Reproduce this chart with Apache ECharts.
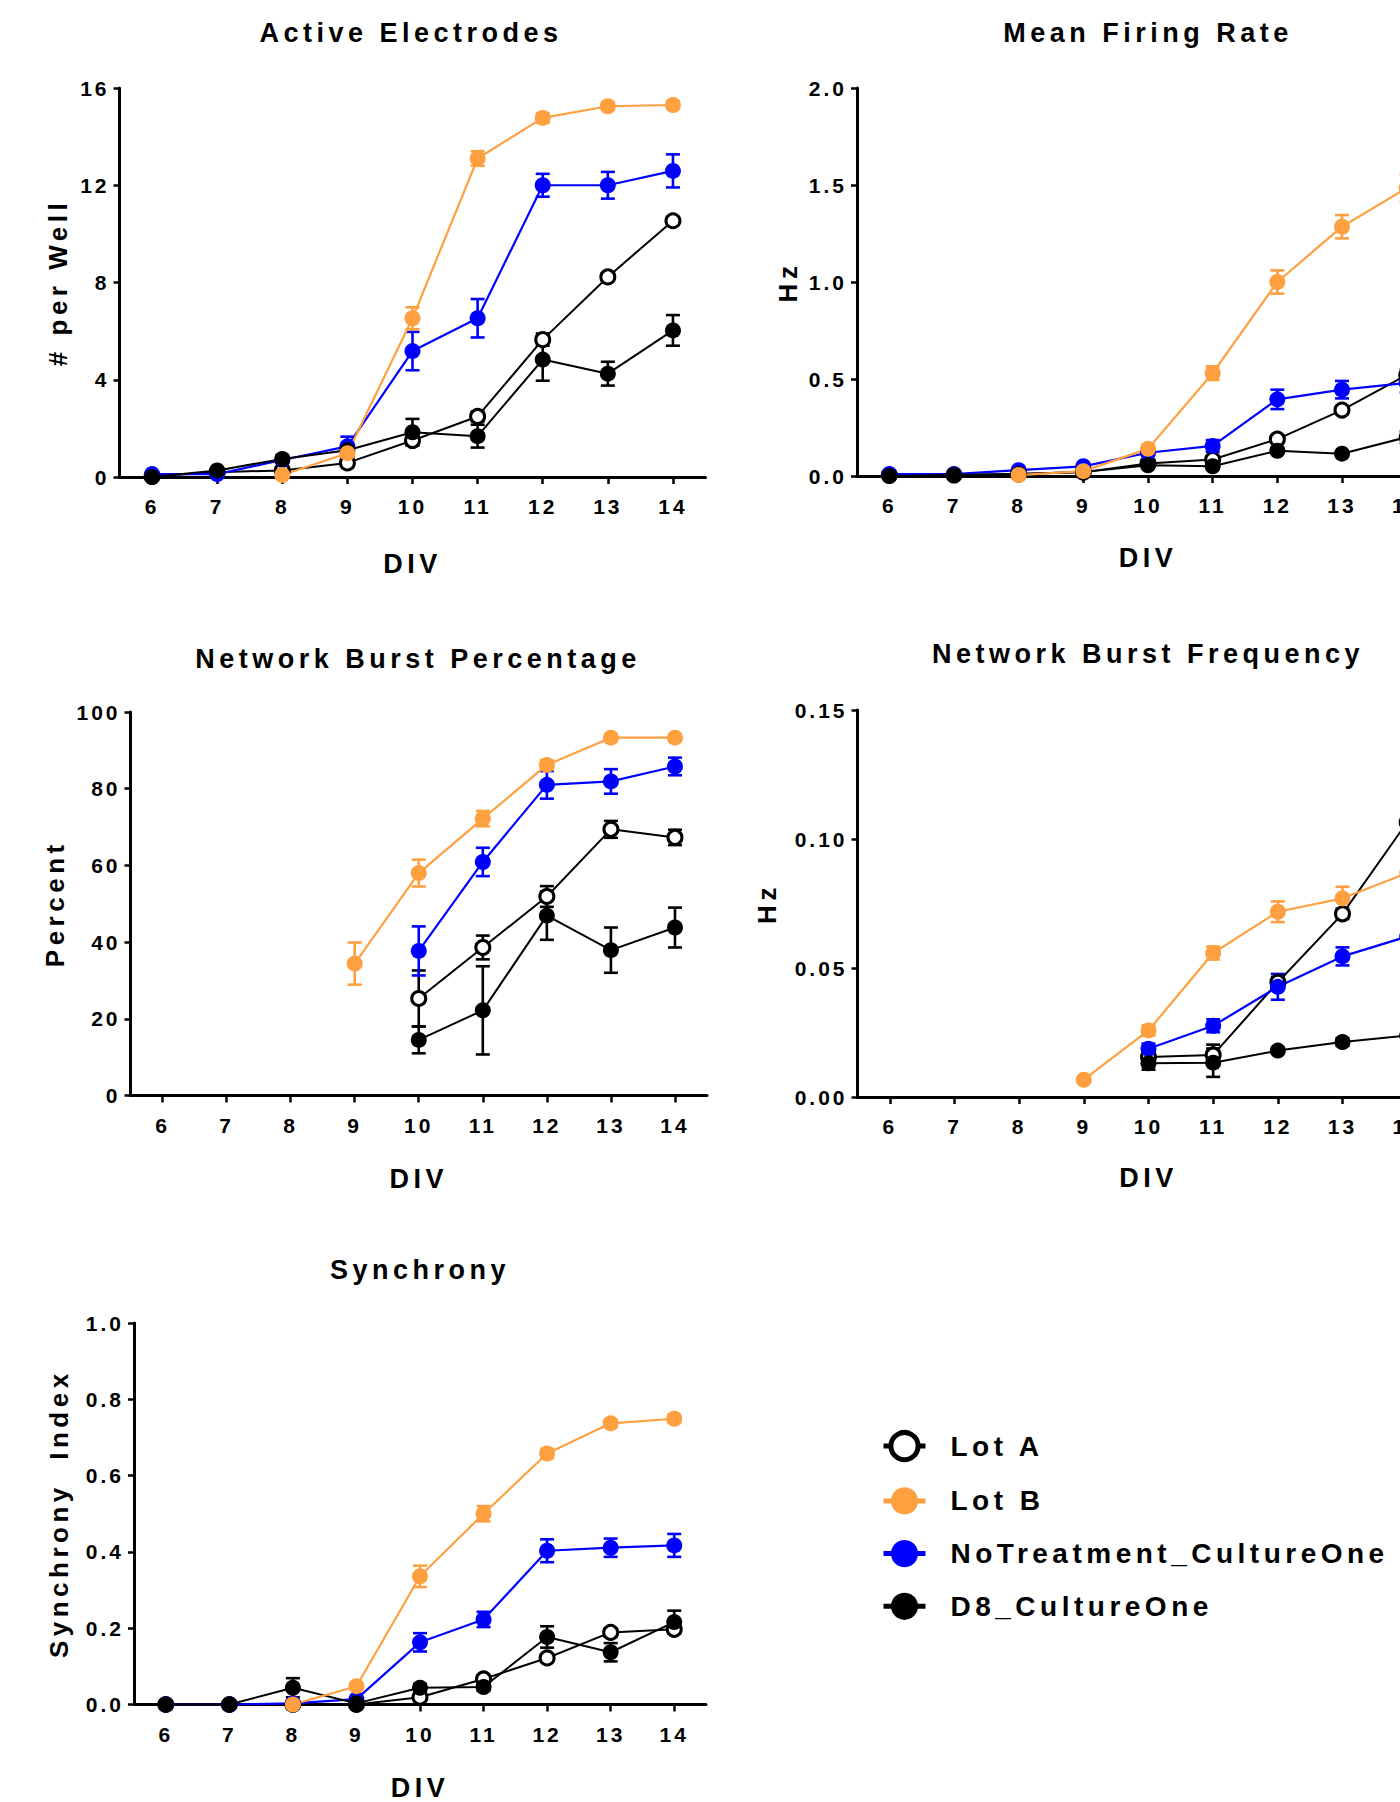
<!DOCTYPE html>
<html>
<head>
<meta charset="utf-8">
<script src="https://cdn.jsdelivr.net/npm/echarts@6/dist/echarts.min.js"></script>
<style>
html, body { margin: 0; padding: 0; background: #fff; }
#main { width: 1400px; height: 1802px; letter-spacing: 4.5px; }
</style>
</head>
<body>
<div id="main"></div>
<script>
var FONT = '"Liberation Sans", Arial, sans-serif';

// days in vitro
var divs = ['6', '7', '8', '9', '10', '11', '12', '13', '14'];

// y tick labels of each panel
var aeTicks = [0, 4, 8, 12, 16];
var mfrTicks = [0, 0.5, 1.0, 1.5, 2.0];
var nbpTicks = [0, 20, 40, 60, 80, 100];
var nbfTicks = [0, 0.05, 0.10, 0.15];
var synTicks = [0, 0.2, 0.4, 0.6, 0.8, 1.0];

// Active Electrodes (# per well), mean and error
var aeLotA = [0.03, 0.2, 0.27, 0.58, 1.5, 2.49, 5.65, 8.23, 10.54];
var aeLotAErr = [0, 0, 0.05, 0.1, 0.15, 0.2, 0.25, 0.15, 0.15];
var aeLotB = [null, null, 0.08, 0.98, 6.53, 13.1, 14.77, 15.25, 15.3];
var aeLotBErr = [null, null, 0.05, 0.15, 0.45, 0.3, 0.2, 0.15, 0.15];
var aeNoT = [0.12, 0.12, 0.7, 1.26, 5.18, 6.53, 12.0, 12.0, 12.59];
var aeNoTErr = [0.05, 0.05, 0.1, 0.4, 0.79, 0.79, 0.47, 0.55, 0.68];
var aeD8 = [0, 0.27, 0.74, 1.1, 1.84, 1.68, 4.83, 4.25, 6.03];
var aeD8Err = [0, 0.05, 0.15, 0.25, 0.55, 0.47, 0.87, 0.49, 0.63];

// Mean Firing Rate (Hz)
var mfrLotA = [0.005, 0.005, 0.01, 0.02, 0.065, 0.085, 0.19, 0.34, 0.52];
var mfrLotAErr = [0, 0, 0, 0.005, 0.01, 0.01, 0.015, 0.02, 0.03];
var mfrLotB = [null, null, 0.005, 0.025, 0.14, 0.53, 1.0, 1.285, 1.485];
var mfrLotBErr = [null, null, 0.005, 0.01, 0.02, 0.035, 0.06, 0.06, 0.07];
var mfrNoT = [0.01, 0.01, 0.03, 0.05, 0.12, 0.155, 0.395, 0.445, 0.48];
var mfrNoTErr = [0, 0, 0.005, 0.01, 0.015, 0.03, 0.05, 0.045, 0.05];
var mfrD8 = [0, 0.005, 0.01, 0.02, 0.055, 0.05, 0.13, 0.115, 0.2];
var mfrD8Err = [0, 0, 0.005, 0.005, 0.01, 0.01, 0.015, 0.01, 0.03];

// Network Burst Percentage
var nbpLotA = [null, null, null, null, 25.3, 38.6, 51.9, 69.4, 67.3];
var nbpLotAErr = [null, null, null, null, 7.3, 3.1, 2.7, 2.2, 2.0];
var nbpLotB = [null, null, null, 34.4, 58.0, 72.2, 86.2, 93.3, 93.3];
var nbpLotBErr = [null, null, null, 5.5, 3.5, 2.0, 1.2, 0.8, 0.8];
var nbpNoT = [null, null, null, null, 37.7, 60.9, 81.0, 81.9, 85.8];
var nbpNoTErr = [null, null, null, null, 6.4, 3.7, 3.6, 3.2, 2.3];
var nbpD8 = [null, null, null, null, 14.5, 22.2, 46.9, 37.9, 43.8];
var nbpD8Err = [null, null, null, null, 3.5, 11.5, 6.3, 5.9, 5.2];

// Network Burst Frequency (Hz)
var nbfLotA = [null, null, null, null, 0.0155, 0.0163, 0.0445, 0.071, 0.1065];
var nbfLotAErr = [null, null, null, null, 0.002, 0.004, 0.002, 0.002, 0.003];
var nbfLotB = [null, null, null, 0.0067, 0.0258, 0.0558, 0.0718, 0.077, 0.0868];
var nbfLotBErr = [null, null, null, 0.001, 0.002, 0.0025, 0.004, 0.0045, 0.004];
var nbfNoT = [null, null, null, null, 0.0187, 0.0276, 0.0427, 0.0545, 0.0622];
var nbfNoTErr = [null, null, null, null, 0.002, 0.0025, 0.005, 0.0035, 0.004];
var nbfD8 = [null, null, null, null, 0.0131, 0.0133, 0.018, 0.0213, 0.0238];
var nbfD8Err = [null, null, null, null, 0.0025, 0.0055, 0.001, 0.0015, 0.003];

// Synchrony Index
var synLotA = [0, 0, 0, 0, 0.019, 0.067, 0.122, 0.189, 0.197];
var synLotAErr = [0, 0, 0, 0, 0.005, 0.008, 0.01, 0.01, 0.01];
var synLotB = [null, null, 0, 0.048, 0.336, 0.5, 0.658, 0.737, 0.749];
var synLotBErr = [null, null, 0, 0.006, 0.028, 0.02, 0.012, 0.01, 0.01];
var synNoT = [0, 0, 0.003, 0.014, 0.163, 0.223, 0.403, 0.411, 0.417];
var synNoTErr = [0, 0, 0.002, 0.005, 0.024, 0.02, 0.03, 0.024, 0.03];
var synD8 = [0, 0, 0.044, 0.003, 0.044, 0.046, 0.177, 0.137, 0.216];
var synD8Err = [0, 0, 0.025, 0.002, 0.01, 0.01, 0.028, 0.024, 0.03];

var panels = [
    { title: 'Active Electrodes', yName: '# per Well', ticks: aeTicks, digits: 0,
      vals: { lotA: aeLotA, noT: aeNoT, d8: aeD8, lotB: aeLotB },
      errs: { lotA: aeLotAErr, noT: aeNoTErr, d8: aeD8Err, lotB: aeLotBErr } },
    { title: 'Mean Firing Rate', yName: 'Hz', ticks: mfrTicks, digits: 1,
      vals: { lotA: mfrLotA, noT: mfrNoT, d8: mfrD8, lotB: mfrLotB },
      errs: { lotA: mfrLotAErr, noT: mfrNoTErr, d8: mfrD8Err, lotB: mfrLotBErr } },
    { title: 'Network Burst Percentage', yName: 'Percent', ticks: nbpTicks, digits: 0,
      vals: { lotA: nbpLotA, noT: nbpNoT, d8: nbpD8, lotB: nbpLotB },
      errs: { lotA: nbpLotAErr, noT: nbpNoTErr, d8: nbpD8Err, lotB: nbpLotBErr } },
    { title: 'Network Burst Frequency', yName: 'Hz', ticks: nbfTicks, digits: 2,
      vals: { lotA: nbfLotA, noT: nbfNoT, d8: nbfD8, lotB: nbfLotB },
      errs: { lotA: nbfLotAErr, noT: nbfNoTErr, d8: nbfD8Err, lotB: nbfLotBErr } },
    { title: 'Synchrony', yName: 'Synchrony  Index', ticks: synTicks, digits: 1,
      vals: { lotA: synLotA, noT: synNoT, d8: synD8, lotB: synLotB },
      errs: { lotA: synLotAErr, noT: synNoTErr, d8: synD8Err, lotB: synLotBErr } }
];

// drawing order: bottom to top
var groups = [
    { name: 'Lot A', key: 'lotA', color: '#000000', fill: '#ffffff', size: 14, border: 3, width: 2 },
    { name: 'NoTreatment_CultureOne', key: 'noT', color: '#0000ff', fill: '#0000ff', size: 16, border: 0, width: 2.2 },
    { name: 'D8_CultureOne', key: 'd8', color: '#000000', fill: '#000000', size: 16, border: 0, width: 2 },
    { name: 'Lot B', key: 'lotB', color: '#ffa040', fill: '#ffa040', size: 16, border: 0, width: 2.2 }
];

// grid placement of each panel
var layout = [
    { left: 119.5, top: 88, width: 586, height: 389, titleX: 411, titleY: 19, yGap: 49, xGap: 73 },
    { left: 857, top: 88, width: 582, height: 388, titleX: 1148, titleY: 19, yGap: 56, xGap: 68.5 },
    { left: 130.5, top: 712, width: 576.5, height: 383.5, titleX: 418, titleY: 645, yGap: 62.6, xGap: 70 },
    { left: 857.5, top: 710, width: 582, height: 387, titleX: 1148, titleY: 640, yGap: 78, xGap: 67 },
    { left: 134, top: 1323, width: 572, height: 381.5, titleX: 420, titleY: 1256, yGap: 62, xGap: 69.5 }
];

function errorBars(i, vals, errs, color) {
    var pts = [];
    vals.forEach(function (v, k) {
        if (v != null && errs[k]) pts.push([k, v - errs[k], v + errs[k]]);
    });
    return {
        type: 'custom', xAxisIndex: i, yAxisIndex: i, silent: true,
        data: pts, encode: { x: 0, y: [1, 2] },
        renderItem: function (params, api) {
            var lo = api.coord([api.value(0), api.value(1)]);
            var hi = api.coord([api.value(0), api.value(2)]);
            var h = 7;
            var st = { stroke: color, lineWidth: 2.6 };
            return {
                type: 'group',
                children: [
                    { type: 'line', shape: { x1: lo[0], y1: lo[1], x2: hi[0], y2: hi[1] }, style: st },
                    { type: 'line', shape: { x1: lo[0] - h, y1: lo[1], x2: lo[0] + h, y2: lo[1] }, style: st },
                    { type: 'line', shape: { x1: hi[0] - h, y1: hi[1], x2: hi[0] + h, y2: hi[1] }, style: st }
                ]
            };
        }
    };
}

var bold = function (size) {
    return { color: '#000', fontFamily: FONT, fontWeight: 'bold', fontSize: size };
};

var grids = [], xAxes = [], yAxes = [], titles = [], series = [];

panels.forEach(function (p, i) {
    var L = layout[i];
    grids.push({
        left: L.left, top: L.top, width: L.width, height: L.height,
        containLabel: false, outerBoundsMode: 'none'
    });
    titles.push({
        text: p.title, left: L.titleX, top: L.titleY, textAlign: 'center', padding: 0,
        textStyle: bold(27)
    });
    xAxes.push({
        type: 'category', gridIndex: i, data: divs, boundaryGap: true,
        name: 'DIV', nameLocation: 'middle', nameGap: L.xGap, nameTextStyle: bold(27),
        axisLine: { show: true, onZero: false, lineStyle: { color: '#000', width: 3 } },
        axisTick: { show: true, alignWithLabel: true, length: 7, lineStyle: { color: '#000', width: 2.5 } },
        axisLabel: Object.assign({ interval: 0, margin: 19 }, bold(21)),
        splitLine: { show: false }
    });
    var t = p.ticks;
    yAxes.push({
        type: 'value', gridIndex: i,
        min: t[0], max: t[t.length - 1], interval: t[1] - t[0],
        name: p.yName, nameLocation: 'middle', nameGap: L.yGap, nameTextStyle: bold(26),
        axisLine: { show: true, onZero: false, lineStyle: { color: '#000', width: 3 } },
        axisTick: { show: true, length: 6, lineStyle: { color: '#000', width: 2.5 } },
        axisLabel: Object.assign({
            margin: 10,
            formatter: (function (d) { return function (v) { return v.toFixed(d); }; })(p.digits)
        }, bold(21)),
        splitLine: { show: false }
    });
    groups.forEach(function (g) {
        series.push(errorBars(i, p.vals[g.key], p.errs[g.key], g.color));
        series.push({
            type: 'line', name: g.name, xAxisIndex: i, yAxisIndex: i,
            data: p.vals[g.key], connectNulls: false, clip: false,
            symbol: 'circle', symbolSize: g.size, showAllSymbol: true,
            lineStyle: { color: g.color, width: g.width },
            itemStyle: { color: g.fill, borderColor: g.color, borderWidth: g.border },
            emphasis: { disabled: true }
        });
    });
});

var myChart = echarts.init(document.getElementById('main'), null, { renderer: 'svg' });

myChart.setOption({
    animation: false,
    backgroundColor: '#fff',
    title: titles,
    grid: grids,
    xAxis: xAxes,
    yAxis: yAxes,
    legend: {
        orient: 'vertical', left: 876, top: 1425,
        itemWidth: 42, itemHeight: 34, itemGap: 24.7,
        selectedMode: false,
        lineStyle: { width: 5 },
        textStyle: Object.assign({ padding: [0, 0, 0, 20] }, bold(28)),
        data: [
            { name: 'Lot A', itemStyle: { borderWidth: 5 } },
            'Lot B', 'NoTreatment_CultureOne', 'D8_CultureOne'
        ]
    },
    series: series
});

// wide tracking like the original figure
function track() {
    var texts = document.querySelectorAll('#main svg text');
    for (var k = 0; k < texts.length; k++) {
        var fs = parseFloat(window.getComputedStyle(texts[k]).fontSize);
        texts[k].style.letterSpacing = fs >= 25 ? '4.5px' : '3px';
    }
}
myChart.on('finished', track);
setTimeout(track, 50);
setTimeout(track, 300);
</script>
</body>
</html>
